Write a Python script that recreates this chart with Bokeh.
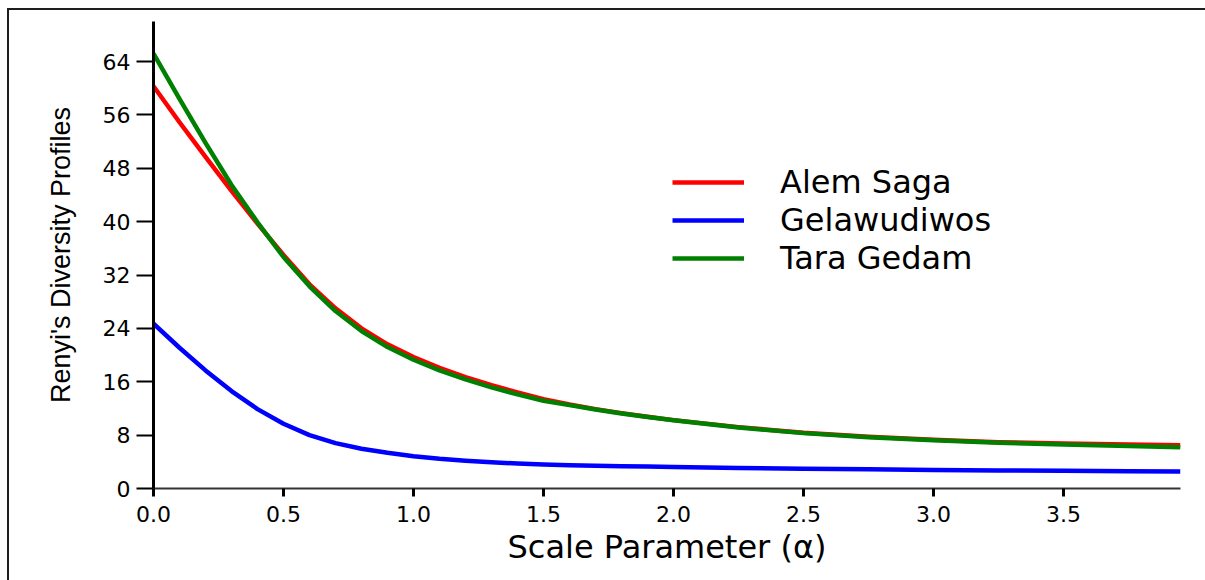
from bokeh.plotting import figure
from bokeh.models import Range1d, FixedTicker, NumeralTickFormatter
from bokeh.embed import file_html
from bokeh.resources import INLINE

# ---- data ----
alpha = [0.0, 0.1, 0.2, 0.3, 0.4, 0.5, 0.6, 0.7, 0.8, 0.9, 1.0,
         1.1, 1.2, 1.3, 1.4, 1.5, 1.6, 1.7, 1.8, 1.9, 2.0,
         2.25, 2.5, 2.75, 3.0, 3.25, 3.5, 3.75, 3.95]
alem_saga = [60.3, 54.9, 49.7, 44.6, 39.7, 35.0, 30.6, 27.0, 24.0, 21.6, 19.7,
             18.1, 16.7, 15.5, 14.4, 13.4, 12.6, 11.9, 11.3, 10.75, 10.25,
             9.2, 8.35, 7.75, 7.3, 6.95, 6.75, 6.6, 6.5]
gelawudiwos = [24.7, 21.1, 17.7, 14.6, 11.9, 9.7, 8.0, 6.8, 5.95, 5.35, 4.85,
               4.45, 4.15, 3.92, 3.75, 3.6, 3.5, 3.42, 3.35, 3.28, 3.22,
               3.08, 2.97, 2.87, 2.78, 2.71, 2.65, 2.6, 2.56]
tara_gedam = [65.2, 58.4, 51.8, 45.5, 39.9, 34.7, 30.3, 26.6, 23.6, 21.2, 19.3,
              17.7, 16.35, 15.15, 14.1, 13.15, 12.5, 11.85, 11.25, 10.72, 10.22,
              9.15, 8.3, 7.7, 7.22, 6.85, 6.6, 6.38, 6.2]

series_names = ["Alem Saga", "Gelawudiwos", "Tara Gedam"]
series_colors = ["#ff0000", "#0000ff", "#008000"]
y_ticks = [0, 8, 16, 24, 32, 40, 48, 56, 64]
x_ticks = [0.0, 0.5, 1.0, 1.5, 2.0, 2.5, 3.0, 3.5]

p = figure(frame_width=1027, frame_height=467,
           min_border_left=144, min_border_right=25,
           min_border_top=11, min_border_bottom=92,
           x_range=Range1d(0, 3.95), y_range=Range1d(0, 70),
           output_backend="svg", toolbar_location=None)
p.styles = {"border-left": "2px solid #1e1e1e", "border-top": "2px solid #1e1e1e",
            "margin-left": "7px", "margin-top": "8px"}

for vals, name, col in zip([alem_saga, gelawudiwos, tara_gedam], series_names, series_colors):
    p.line(alpha, vals, line_color=col, line_width=4.5, line_join="round",
           legend_label=name)

p.grid.visible = False
p.outline_line_color = None

# y axis
ya = p.yaxis[0]
ya.ticker = FixedTicker(ticks=y_ticks)
ya.axis_line_color = "black"
ya.axis_line_width = 3
ya.major_tick_line_color = "black"
ya.major_tick_line_width = 2
ya.major_tick_out = 17
ya.major_tick_in = 0
ya.minor_tick_line_color = None
ya.major_label_text_font = "DejaVu Sans"
ya.major_label_text_font_size = "22px"
ya.major_label_text_color = "black"
ya.major_label_standoff = 6
ya.axis_label = "Renyi's Diversity Profiles"
ya.axis_label_text_font = "Liberation Sans"
ya.axis_label_text_font_style = "normal"
ya.axis_label_text_font_size = "27px"
ya.axis_label_text_color = "black"
ya.axis_label_standoff = 24

# x axis
xa = p.xaxis[0]
xa.ticker = FixedTicker(ticks=x_ticks)
xa.formatter = NumeralTickFormatter(format="0.0")
xa.axis_line_color = "#333333"
xa.axis_line_width = 2
xa.major_tick_line_color = "black"
xa.major_tick_line_width = 3
xa.major_tick_out = 8
xa.major_tick_in = 0
xa.minor_tick_line_color = None
xa.major_label_text_font = "DejaVu Sans"
xa.major_label_text_font_size = "22px"
xa.major_label_text_color = "black"
xa.major_label_standoff = 9
xa.axis_label = "Scale Parameter (\u03b1)"
xa.axis_label_text_font = "DejaVu Sans"
xa.axis_label_text_font_style = "normal"
xa.axis_label_text_font_size = "32px"
xa.axis_label_text_color = "black"
xa.axis_label_standoff = 3

# legend
lg = p.legend[0]
lg.location = (519, 211)
lg.border_line_color = None
lg.background_fill_alpha = 0
lg.padding = 0
lg.margin = 0
lg.spacing = 0
lg.glyph_width = 72
lg.glyph_height = 30
lg.label_height = 30
lg.label_standoff = 36
lg.label_text_font = "DejaVu Sans"
lg.label_text_font_size = "32px"
lg.label_text_color = "black"

open("out.html", "w").write(file_html(p, INLINE))
